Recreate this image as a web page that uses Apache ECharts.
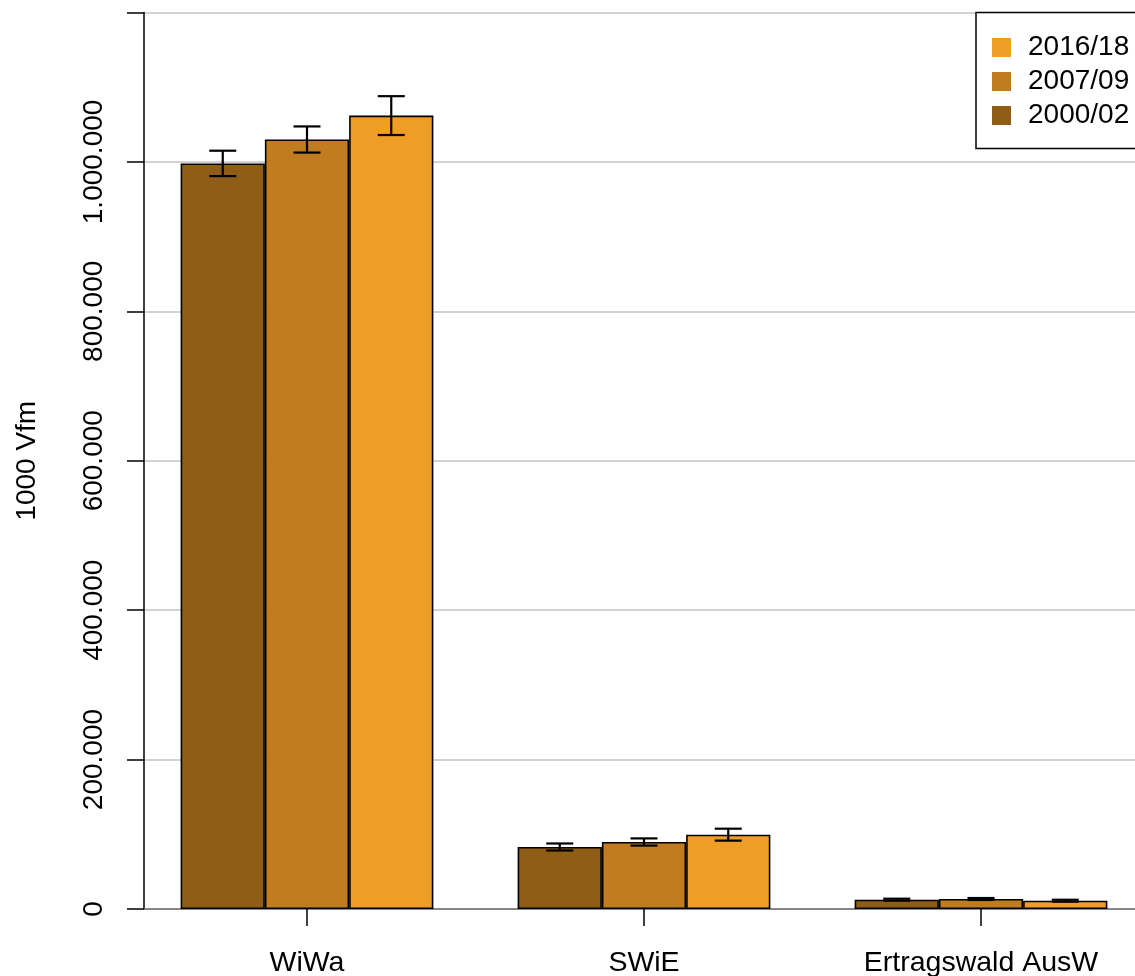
<!DOCTYPE html>
<html>
<head>
<meta charset="utf-8">
<script src="https://cdn.jsdelivr.net/npm/echarts@6/dist/echarts.min.js"></script>
<style>html,body{margin:0;padding:0;background:#fff}#c{width:1135px;height:976px}</style>
</head>
<body>
<div id="c"></div>
<script>
const categories = ['WiWa', 'SWiE', 'Ertragswald AusW'];
const years = ['2000/02', '2007/09', '2016/18'];
const legendOrder = ['2016/18', '2007/09', '2000/02'];
const v2000 = [998000, 83000, 12500];
const v2007 = [1030000, 89700, 13400];
const v2016 = [1062000, 99500, 11100];
const e2000 = [17000, 4700, 1300];
const e2007 = [17500, 4800, 1300];
const e2016 = [26000, 8000, 1300];
const yTicks = [0, 200000, 400000, 600000, 800000, 1000000, 1200000];
const colors = ['#905D16', '#C17C20', '#F09D27'];

const values = [v2000, v2007, v2016];
const errors = [e2000, e2007, e2016];
const FONT = 'Liberation Sans, Arial, sans-serif';

function fmt(v) {
  if (v === yTicks[yTicks.length - 1]) return '';
  return String(v).replace(/\B(?=(\d{3})+(?!\d))/g, '.');
}

const TOP = 12.5, PLOT_H = 896.5;

const series = [];
years.forEach((y, s) => {
  series.push({
    name: y, type: 'bar', xAxisIndex: 0, yAxisIndex: 0,
    barWidth: '25%', barGap: '0%',
    itemStyle: { color: colors[s], borderColor: '#000', borderWidth: 1.6 },
    data: values[s], z: 3
  });
});
years.forEach((y, s) => {
  series.push({
    type: 'custom', xAxisIndex: 0, yAxisIndex: 0, z: 5, silent: true,
    data: categories.map((c, i) => [i, values[s][i] - errors[s][i], values[s][i] + errors[s][i]]),
    encode: { x: 0, y: [1, 2] },
    renderItem: function (params, api) {
      const band = api.size([1, 0])[0];
      const off = (s - 1) * band * 0.25;
      const lo = api.coord([api.value(0), api.value(1)]);
      const hi = api.coord([api.value(0), api.value(2)]);
      const x = lo[0] + off, hw = 13.5;
      const st = { stroke: '#000', lineWidth: 2.2 };
      return { type: 'group', children: [
        { type: 'line', shape: { x1: x, y1: lo[1], x2: x, y2: hi[1] }, style: st },
        { type: 'line', shape: { x1: x - hw, y1: lo[1], x2: x + hw, y2: lo[1] }, style: st },
        { type: 'line', shape: { x1: x - hw, y1: hi[1], x2: x + hw, y2: hi[1] }, style: st }
      ]};
    }
  });
});

const chart = echarts.init(document.getElementById('c'));
chart.setOption({
  animation: false,
  backgroundColor: '#fff',
  textStyle: { fontFamily: FONT },
  grid: [
    { left: 138.5, width: 1011, top: TOP, height: PLOT_H, outerBoundsMode: 'none', containLabel: false },
    { left: 144, right: 0, top: TOP, height: PLOT_H, outerBoundsMode: 'none', containLabel: false }
  ],
  legend: {
    data: legendOrder,
    orient: 'vertical', left: 976, top: 12.5,
    backgroundColor: '#fff',
    borderColor: '#000', borderWidth: 1.5, borderRadius: 0,
    padding: [21, 30, 19, 16],
    itemWidth: 19, itemHeight: 19, itemGap: 6,
    icon: 'rect',
    itemStyle: { borderWidth: 0 },
    textStyle: { fontSize: 28, color: '#000', fontFamily: FONT, padding: [0, 0, 0, 12] }
  },
  xAxis: [
    { type: 'category', gridIndex: 0, data: categories,
      axisLine: { show: false },
      axisTick: { show: true, alignWithLabel: true, length: 17, lineStyle: { color: '#000', width: 1.5 } },
      axisLabel: { fontSize: 28.5, color: '#000', margin: 40, fontFamily: FONT },
      splitLine: { show: false } },
    { type: 'value', gridIndex: 1, min: 0, max: 1,
      axisLine: { show: true, lineStyle: { color: '#6e6e6e', width: 1.5 } },
      axisTick: { show: false }, axisLabel: { show: false }, splitLine: { show: false } }
  ],
  yAxis: [
    { type: 'value', gridIndex: 0, min: yTicks[0], max: yTicks[yTicks.length - 1], show: false },
    { type: 'value', gridIndex: 1, min: yTicks[0], max: yTicks[yTicks.length - 1], interval: yTicks[1] - yTicks[0],
      name: '1000 Vfm', nameLocation: 'middle', nameGap: 103, nameRotate: 90,
      nameTextStyle: { fontSize: 28, color: '#000', fontFamily: FONT },
      axisLine: { show: true, lineStyle: { color: '#000', width: 1.5 } },
      axisTick: { show: true, length: 17, lineStyle: { color: '#000', width: 1.5 } },
      axisLabel: { rotate: 90, fontSize: 28, color: '#000', margin: 36, formatter: fmt, fontFamily: FONT },
      splitLine: { show: true, lineStyle: { color: '#c4c4c4', width: 1.5 } } }
  ],
  series: series
});
</script>
</body>
</html>
